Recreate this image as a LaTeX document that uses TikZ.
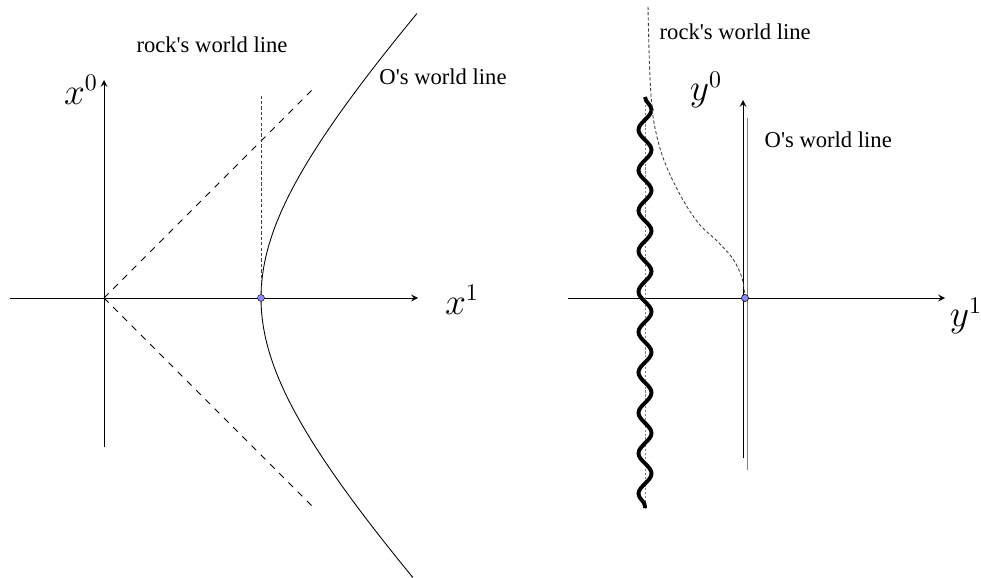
\documentclass[tikz,border=0pt]{standalone}
\usepackage{fontspec}
\setmainfont{Liberation Serif}
\usepackage{tikz}
\usetikzlibrary{arrows,positioning,calc,decorations.pathmorphing}

\begin{document}
\begin{tikzpicture}[x=0.46pt, y=-0.46pt,
    axis/.style={->, >=stealth, thin, black},
    light_cone/.style={dashed, thin, black},
    world_line/.style={thin, black},
    rock_line/.style={thin, dash pattern=on 1.5pt off 1pt, black!75},
    horizon/.style={very thin, dash pattern=on 1pt off 0.8pt, gray},
    wavy/.style={line width=1.8pt, decorate, decoration={snake, segment length=18.6pt, amplitude=3pt}},
    event/.style={circle, draw=black, very thin, fill=blue!45, minimum size=3.2pt, inner sep=0pt},
    label_text/.style={font=\fontsize{10.4}{12}\selectfont},
    math_label/.style={font=\fontsize{16}{19}\selectfont}
]
\useasboundingbox (0,0) rectangle (981,578);

% --- LEFT: inertial coordinates ---
\coordinate (O) at (104,298);
\coordinate (X1end) at (418,298);
\coordinate (X1start) at (10,298);
\coordinate (X0end) at (104,80);
\coordinate (X0start) at (104,447);

\draw[axis] (X1start) -- (X1end);
\draw[axis] (X0start) -- (X0end);
\node[math_label] (x1) at (462,300) {$x^1$};
\node[math_label] (x0) at (81,90) {$x^0$};

% light cone
\coordinate (LCup) at (314,88);
\coordinate (LCdown) at (314,508);
\draw[light_cone] (O) -- (LCup);
\draw[light_cone] (O) -- (LCdown);

% observer hyperbola
\draw[world_line] plot[domain=-1.298:1.313, samples=80, variable=\t]
    ({104+157*cosh(\t)}, {298-165*sinh(\t)});

% rock
\node[event] (E) at (261,298) {};
\coordinate (Rtop) at (261,96);
\draw[rock_line] (E) -- (Rtop);
\node[label_text] (rockL) at (212,45) {rock\textquotesingle s world line};
\node[label_text] (obsL) at (443,77) {O\textquotesingle s world line};

% --- RIGHT: accelerated coordinates ---
\coordinate (Y1start) at (568,298);
\coordinate (Y1end) at (945,298);
\coordinate (Y0start) at (743,458);
\coordinate (Y0end) at (743,100);
\draw[axis] (Y1start) -- (Y1end);
\draw[axis] (Y0start) -- (Y0end);
\draw[gray, thin] (747,118) -- (747,470);
\node[math_label] (y1) at (966,316) {$y^1$};
\node[math_label] (y0) at (706,90) {$y^0$};

% horizon
\coordinate (Htop) at (645,97);
\coordinate (Hbot) at (645,508);
\draw[horizon] (Htop) -- (Hbot);
\draw[wavy] (Htop) -- (Hbot);

% rock in accelerated frame
\node[event] (F) at (745,298) {};
\draw[rock_line] plot[smooth, tension=0.6] coordinates
    {(745,298) (742,278) (733,259) (717,241) (700,225) (683,200) (665,163) (655,128) (651,95) (649,50) (648,5)};
\node[event] at (745,298) {};
\node[label_text, anchor=west] (rockR) at (652,32) {rock\textquotesingle s world line};
\node[label_text, anchor=west] (obsR) at (757,140) {O\textquotesingle s world line};

\end{tikzpicture}
\end{document}
